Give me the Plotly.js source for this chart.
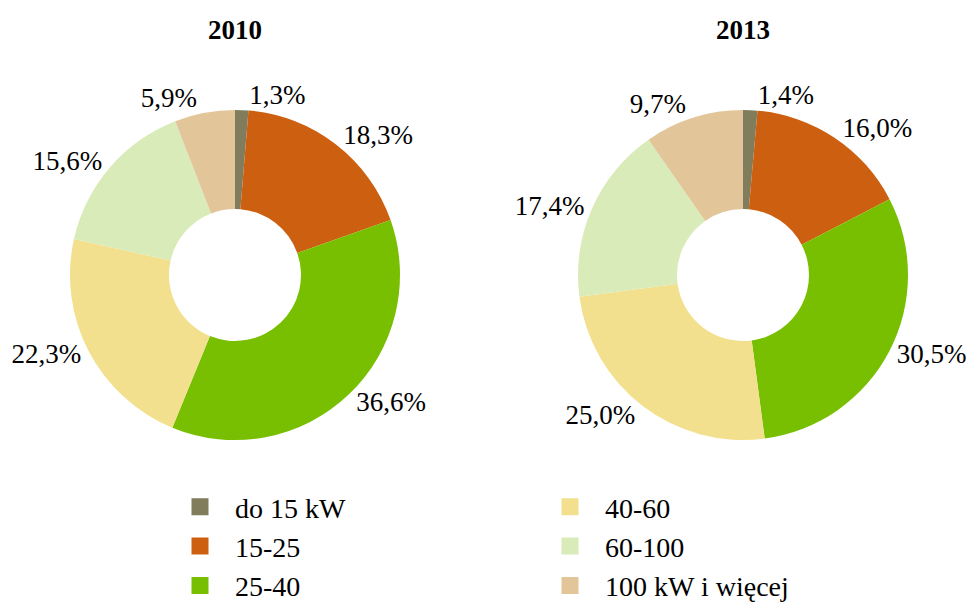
<!DOCTYPE html>
<html>
<head>
<meta charset="utf-8">
<script src="https://cdn.plot.ly/plotly-3.0.1.min.js"></script>
<style>html,body{margin:0;padding:0;background:#fff;}</style>
</head>
<body>
<div id="chart" style="width:975px;height:603px;"></div>
<script>
var categories = ['do 15 kW', '15-25', '25-40', '40-60', '60-100', '100 kW i więcej'];
var values2010 = [1.3, 18.3, 36.6, 22.3, 15.6, 5.9];
var values2013 = [1.4, 16.0, 30.5, 25.0, 17.4, 9.7];
var colors = ['#807c5c', '#cc6010', '#77bf00', '#f3e08e', '#d9ebb8', '#e2c699'];
var years = ['2010', '2013'];

// legend order (two columns read top-down)
var legendOrder = [0, 3, 1, 4, 2, 5];

var FONT = 'Liberation Serif';
var FS = 27;
var W = 975, H = 603;
var LEGEND_TOP = 482;          // container px; the legend reserves the space below it
var PH = LEGEND_TOP;           // plot-area height left for the pies (top margin 0)

var legendTrace = {
  type: 'pie',
  labels: legendOrder.map(function (i) { return categories[i]; }),
  values: legendOrder.map(function (i) { return values2010[i]; }),
  marker: {
    colors: legendOrder.map(function (i) { return colors[i]; }),
    line: { color: legendOrder.map(function (i) { return colors[i]; }), width: 5 }
  },
  sort: false,
  textinfo: 'none',
  hoverinfo: 'skip',
  domain: { x: [330 / W, 331 / W], y: [1 - 361 / PH, 1 - 360 / PH] }
};

function donut(vals, dx) {
  return {
    type: 'pie',
    labels: categories,
    values: vals,
    marker: { colors: colors, line: { width: 0 } },
    hole: 0.4,
    sort: false,
    direction: 'clockwise',
    rotation: 0,
    textposition: 'outside',
    texttemplate: '%{value:.1f}%',
    textfont: { family: FONT, size: FS, color: '#000' },
    automargin: false,
    domain: dx
  };
}

var data = [
  legendTrace,
  donut(values2010, { x: [70 / W, 400 / W], y: [1 - 440 / PH, 1 - 110 / PH] }),
  donut(values2013, { x: [578 / W, 908 / W], y: [1 - 440 / PH, 1 - 110 / PH] })
];

var layout = {
  width: W,
  height: H,
  autosize: false,
  margin: { l: 0, r: 0, t: 0, b: 0 },
  paper_bgcolor: '#ffffff',
  plot_bgcolor: '#ffffff',
  separators: ', ',
  font: { family: FONT, size: FS, color: '#000' },
  showlegend: true,
  legend: {
    orientation: 'h',
    xref: 'container',
    yref: 'container',
    x: 165 / W,
    xanchor: 'left',
    y: 1 - LEGEND_TOP / H,
    yanchor: 'top',
    entrywidth: 295,
    entrywidthmode: 'pixels',
    itemwidth: 60,
    font: { family: FONT, size: 28, color: '#000' },
    bgcolor: 'rgba(0,0,0,0)'
  },
  annotations: years.map(function (yr, k) {
    return {
      text: '<b>' + yr + '</b>',
      xref: 'paper', yref: 'paper',
      x: k === 0 ? 235 / W : 743 / W,
      y: 1 - 30 / PH,
      xanchor: 'center', yanchor: 'middle',
      showarrow: false,
      font: { family: FONT, size: FS, color: '#000' }
    };
  })
};

Plotly.newPlot('chart', data, layout, { displayModeBar: false, staticPlot: true });
</script>
</body>
</html>
